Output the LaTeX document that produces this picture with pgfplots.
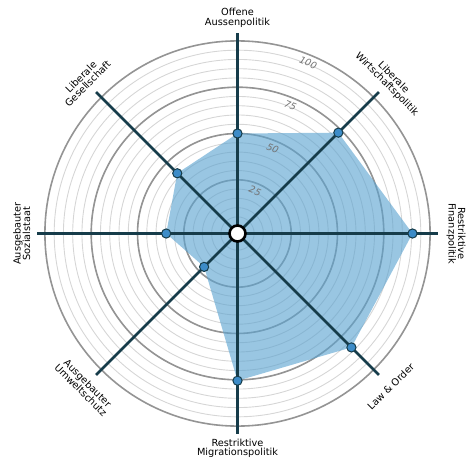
\documentclass[border=0pt]{standalone}
\usepackage{pgfplots}
\pgfplotsset{compat=1.18}
\usepgfplotslibrary{polar}
\usepackage{fontspec}
\setmainfont{DejaVu Sans}
\definecolor{spoke}{HTML}{163C4A}
\definecolor{area}{HTML}{5BA3D0}
\definecolor{dot}{HTML}{3D8CC8}
\begin{document}
\begin{tikzpicture}
\begin{polaraxis}[
    scale only axis, width=400bp, height=400bp,
    y coord trafo/.code={\pgfmathparse{#1+4}},
    y coord inv trafo/.code={\pgfmathparse{#1-4}},
    xmin=0, xmax=360, ymin=-4, ymax=104,
    xtick=\empty,
    ytick={25,50,75,100}, yticklabels={},
    minor ytick={0,5,...,95},
    ymajorgrids, yminorgrids,
    major grid style={black!42, line width=1.6bp},
    minor grid style={black!16, line width=0.9bp},
    major tick length=0pt, minor tick length=0pt,
    axis line style={draw=none},
    clip=false,
]
% smartspider values
\addplot[draw=none, fill=area, fill opacity=0.62] coordinates {
  (90,50) (45,73) (0,90.5) (-45,83) (-90,75.5) (-135,21.5) (180,34.5) (135,42) (90,50)} -- cycle;
% spokes
\foreach \a in {0,45,...,315} {
  \edef\tmp{\noexpand\addplot[spoke, line width=2.6bp] coordinates {(\a,-4) (\a,104)};}
  \tmp
}
\addplot[only marks, mark=*, mark size=4.6bp, mark options={fill=dot, draw=spoke, line width=1bp}] coordinates {
  (90,50) (45,73) (0,90.5) (-45,83) (-90,75.5) (-135,21.5) (180,34.5) (135,42)};
\addplot[only marks, mark=*, mark size=8bp, mark options={fill=white, draw=black, line width=2.6bp}] coordinates {(0,-4)};
% ring labels
\begin{scope}[every node/.style={font=\fontsize{9.5}{9.5}\selectfont\itshape, text=black!55, rotate=-22.5}]
\node at (axis cs:67.5,20.8) {25};
\node at (axis cs:67.5,45.8) {50};
\node at (axis cs:67.5,70.8) {75};
\node at (axis cs:67.5,95.8) {100};
\end{scope}
% category labels
\begin{scope}[every node/.style={font=\fontsize{9.8}{9.6}\selectfont, align=center, text=black, inner sep=0pt}]
\node[rotate=0] at (axis cs:90,112.5) {Offene\\Aussenpolitik};
\node[rotate=-45] at (axis cs:45,112.5) {Liberale\\Wirtschaftspolitik};
\node[rotate=-90] at (axis cs:0,114) {Restriktive\\Finanzpolitik};
\node[rotate=45] at (axis cs:-45,113) {Law \& Order};
\node[rotate=0] at (axis cs:-90,112) {Restriktive\\Migrationspolitik};
\node[rotate=-45] at (axis cs:-135,113) {Ausgebauter\\Umweltschutz};
\node[rotate=90] at (axis cs:180,112.5) {Ausgebauter\\Sozialstaat};
\node[rotate=45] at (axis cs:135,113) {Liberale\\Gesellschaft};
\end{scope}
\coordinate (c) at (axis cs:0,-4);
\end{polaraxis}
\path ([shift={(-237.5bp,-239.5bp)}]c) rectangle ([shift={(237.5bp,233.5bp)}]c);
\end{tikzpicture}
\end{document}
